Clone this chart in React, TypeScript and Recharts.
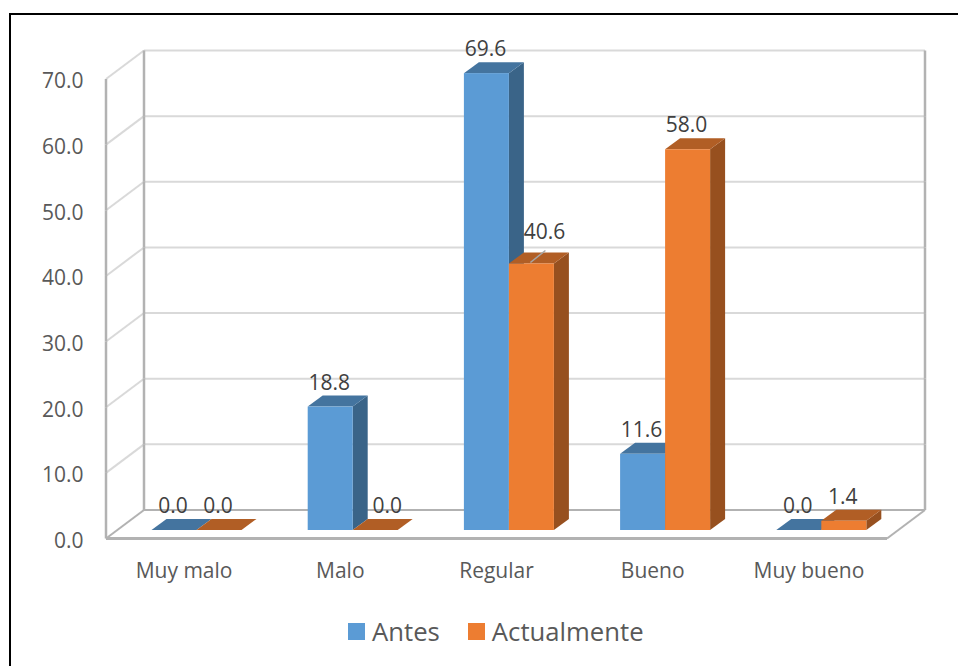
import React from "react";
import { BarChart, Bar, XAxis, YAxis, CartesianGrid, Legend, LabelList } from "recharts";

const categories = ["Muy malo", "Malo", "Regular", "Bueno", "Muy bueno"];
const antes = [0.0, 18.8, 69.6, 11.6, 0.0];
const actualmente = [0.0, 0.0, 40.6, 58.0, 1.4];
const yTicks = [0, 10, 20, 30, 40, 50, 60, 70];

const data = categories.map((name, i) => ({ name, Antes: antes[i], Actualmente: actualmente[i] }));

const FONT = "'Open Sans', sans-serif";
const WALL_DX = 38;
const WALL_DY = 28.5;
const PLOT_H = 459.5;
const BAR_DX = 12.5;
const BAR_DY = 8.5;
const TOP_DX = 15;
const TOP_DY = 11;
const LABEL_DX = -1;
const GRID = "#D9D9D9";
const EDGE = "#B2B2B2";

const BLUE = { front: "#5B9BD5", top: "#44749F", side: "#3A6488" };
const ORANGE = { front: "#ED7D31", top: "#B15E25", side: "#97501F" };

function Bar3D(pal: typeof BLUE) {
  return (p: any) => {
    const x = p.x + BAR_DX;
    const w = p.width;
    const y = p.y - BAR_DY;
    const h = p.height;
    const r = x + w;
    const b = y + h;
    return (
      <g>
        <polygon points={`${r},${y} ${r + TOP_DX},${y - TOP_DY} ${r + TOP_DX},${b - TOP_DY} ${r},${b}`} fill={pal.side} />
        <polygon points={`${x},${y} ${x + TOP_DX},${y - TOP_DY} ${r + TOP_DX},${y - TOP_DY} ${r},${y}`} fill={pal.top} />
        {h > 0 && <rect x={x} y={y} width={w} height={h} fill={pal.front} />}
      </g>
    );
  };
}

function gridLine(p: any) {
  const { x1, x2, y1 } = p;
  const isFloor = Math.abs(y1 - (79 + PLOT_H)) < 1;
  const lbx = x1 + WALL_DX;
  const rbx = x2 + WALL_DX;
  const by = y1 - WALL_DY;
  const seg = PLOT_H / 7;
  return (
    <g key={p.key}>
      <line x1={x1} y1={y1} x2={lbx} y2={by} stroke={isFloor ? EDGE : GRID} strokeWidth={2} />
      <line x1={lbx} y1={by} x2={rbx} y2={by} stroke={isFloor ? EDGE : GRID} strokeWidth={2} />
      {!isFloor && (
        <g>
          <line x1={x1} y1={y1} x2={x1} y2={y1 + seg} stroke={EDGE} strokeWidth={2.5} />
          <line x1={lbx} y1={by} x2={lbx} y2={by + seg} stroke={EDGE} strokeWidth={2.5} />
          <line x1={rbx} y1={by} x2={rbx} y2={by + seg} stroke={EDGE} strokeWidth={2.5} />
        </g>
      )}
      {isFloor && (
        <g>
          <line x1={x1} y1={y1} x2={x2} y2={y1} stroke={EDGE} strokeWidth={3} />
          <line x1={x2} y1={y1} x2={rbx} y2={by} stroke={EDGE} strokeWidth={2} />
        </g>
      )}
    </g>
  );
}

function YTick(p: any) {
  return (
    <text x={83.5} y={p.y + 9.3} textAnchor="end" fontFamily={FONT} fontSize={21} fill="#595959">
      {Number(p.payload.value).toFixed(1)}
    </text>
  );
}

function XTick(p: any) {
  return (
    <text x={p.x} y={578} textAnchor="middle" fontFamily={FONT} fontSize={21} fill="#595959">
      {p.payload.value}
    </text>
  );
}

function barLabel(seriesIndex: number) {
  return (p: any) => {
    const { x, y, width, value, index } = p;
    let cx = x + BAR_DX + width / 2 + LABEL_DX;
    let cy = y - BAR_DY - 17;
    const isRegularActual = seriesIndex === 1 && categories[index] === "Regular";
    const isMaloActual = seriesIndex === 1 && categories[index] === "Malo";
    if (isRegularActual) {
      cx += 14;
      cy -= 7;
    }
    if (isMaloActual) cx += 13;
    return (
      <g>
        {isRegularActual && (
          <line x1={x + BAR_DX + width / 2 - 1} y1={y - BAR_DY - 1} x2={x + BAR_DX + width / 2 + 14} y2={y - BAR_DY - 13} stroke="#A6A6A6" strokeWidth={1.5} />
        )}
        <text x={cx} y={cy} textAnchor="middle" fontFamily={FONT} fontSize={21} fill="#404040">
          {Number(value).toFixed(1)}
        </text>
      </g>
    );
  };
}

function LegendContent(p: any) {
  return (
    <div style={{ display: "flex", alignItems: "center", fontFamily: FONT, fontSize: 25.7, color: "#595959", lineHeight: "32px" }}>
      {(p.payload || []).map((e: any) => (
        <div key={e.value} style={{ display: "flex", alignItems: "center", marginRight: 28 }}>
          <div style={{ width: 17, height: 17, background: e.color, marginRight: 7, marginTop: -1 }} />
          <span>{e.value}</span>
        </div>
      ))}
    </div>
  );
}

export default function App() {
  return (
    <div style={{ position: "absolute", left: 0, top: 0, width: 958, height: 666, overflow: "hidden", background: "#fff" }}>
      <div style={{ position: "absolute", left: 9, top: 13, width: 1000, height: 700, border: "2px solid #000" }} />
      <BarChart
        style={{ position: "absolute", left: 0, top: 0 }}
        width={958}
        height={666}
        data={data}
        margin={{ left: 0, top: 79, right: 71, bottom: 97.5 }}
        barSize={45}
        barGap={0}
      >
        <CartesianGrid vertical={false} horizontal={gridLine} />
        <XAxis dataKey="name" axisLine={false} tickLine={false} tick={XTick} interval={0} />
        <YAxis domain={[0, 70]} ticks={yTicks} width={106} axisLine={false} tickLine={false} tick={YTick} interval={0} />
        <Bar dataKey="Antes" fill={BLUE.front} shape={Bar3D(BLUE)} isAnimationActive={false}>
          <LabelList dataKey="Antes" content={barLabel(0)} />
        </Bar>
        <Bar dataKey="Actualmente" fill={ORANGE.front} shape={Bar3D(ORANGE)} isAnimationActive={false}>
          <LabelList dataKey="Actualmente" content={barLabel(1)} />
        </Bar>
        <Legend
          layout="horizontal"
          verticalAlign="middle"
          align="center"
          itemSorter={null}
          content={LegendContent}
          wrapperStyle={{ left: 348, top: 616, width: 340, height: 32, bottom: "auto" }}
        />
      </BarChart>
    </div>
  );
}
